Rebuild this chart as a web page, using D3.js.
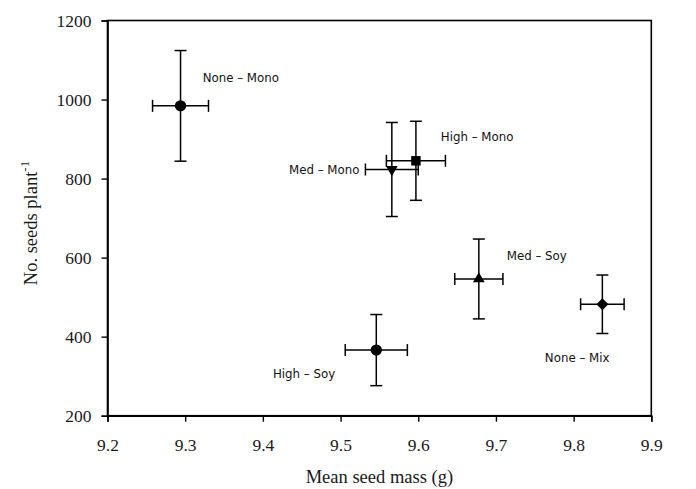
<!DOCTYPE html>
<html>
<head>
<meta charset="utf-8">
<script src="https://cdn.jsdelivr.net/npm/d3@7"></script>
<style>
  html, body { margin: 0; padding: 0; background: #fff; }
  svg { display: block; }
</style>
</head>
<body>
<svg id="chart" width="696" height="489"></svg>
<script>
// ---- data ----
const groups = ["None – Mono", "High – Mono", "Med – Mono", "Med – Soy", "None – Mix", "High – Soy"];
const markers = ["circle", "square", "triangleDown", "triangleUp", "diamond", "circle"];
const seedMass = [9.294, 9.597, 9.566, 9.678, 9.837, 9.546];
const seedMassErr = [0.036, 0.038, 0.034, 0.031, 0.028, 0.040];
const seedsPerPlant = [984, 845, 823, 546, 482, 366];
const seedsPerPlantErr = [140, 100, 119, 101, 74, 90];
// label anchor positions in data units (left edge, vertical centre)
const labelX = [9.3225, 9.629, 9.4336, 9.714, 9.763, 9.413];
const labelY = [1054, 905, 822, 604, 346, 305];
const xTicks = [9.2, 9.3, 9.4, 9.5, 9.6, 9.7, 9.8, 9.9];
const yTicks = [200, 400, 600, 800, 1000, 1200];

// ---- layout ----
const svg = d3.select("#chart");
const m = { left: 107.5, top: 20.5, right: 696 - 651.3, bottom: 489 - 415.7 };
const W = 696 - m.left - m.right;
const H = 489 - m.top - m.bottom;
const g = svg.append("g").attr("transform", `translate(${m.left},${m.top})`);

const x = d3.scaleLinear().domain([9.2, 9.9]).range([0, W]);
const y = d3.scaleLinear().domain([200, 1200]).range([H, 0]);

const serif = "'Liberation Serif', 'Times New Roman', serif";
const sans = "'DejaVu Sans', Verdana, sans-serif";

// frame
g.append("rect").attr("x", 0).attr("y", 0).attr("width", W).attr("height", H)
  .attr("fill", "none").attr("stroke", "#000").attr("stroke-width", 1.6);

// axes
const xAxis = g.append("g").attr("transform", `translate(0,${H})`)
  .call(d3.axisBottom(x).tickValues(xTicks).tickFormat(d3.format(".1f")).tickSize(6).tickPadding(17));
const yAxis = g.append("g")
  .call(d3.axisLeft(y).tickValues(yTicks).tickFormat(d3.format("d")).tickSize(6).tickPadding(10));
[xAxis, yAxis].forEach(a => {
  a.select(".domain").attr("stroke", "#000").attr("stroke-width", 1.6);
  a.selectAll(".tick line").attr("stroke", "#000").attr("stroke-width", 1.4);
  a.selectAll(".tick text").attr("fill", "#1a1a1a").style("font-family", serif).style("font-size", "17.5px");
});

// axis titles
svg.append("text").attr("x", m.left + W / 2).attr("y", 483)
  .attr("text-anchor", "middle").style("font-family", serif).style("font-size", "18.5px").attr("fill", "#1a1a1a")
  .text("Mean seed mass (g)");
const yt = svg.append("text").attr("transform", "translate(37,223) rotate(-90)")
  .attr("text-anchor", "middle").style("font-family", serif).style("font-size", "18.5px").attr("fill", "#1a1a1a");
yt.append("tspan").text("No. seeds plant");
yt.append("tspan").attr("dy", -8).style("font-size", "13px").text("-1");

// data rows
const rows = groups.map((name, i) => ({
  name, marker: markers[i], mx: seedMass[i], mxe: seedMassErr[i],
  sy: seedsPerPlant[i], sye: seedsPerPlantErr[i], lx: labelX[i], ly: labelY[i]
}));

const cap = 6;
const eb = g.append("g").attr("stroke", "#000").attr("stroke-width", 1.5).attr("fill", "none");
rows.forEach(d => {
  const cx = x(d.mx), cy = y(d.sy);
  const y0 = y(d.sy - d.sye), y1 = y(d.sy + d.sye);
  const x0 = x(d.mx - d.mxe), x1 = x(d.mx + d.mxe);
  eb.append("line").attr("x1", cx).attr("x2", cx).attr("y1", y0).attr("y2", y1);
  eb.append("line").attr("x1", cx - cap).attr("x2", cx + cap).attr("y1", y0).attr("y2", y0);
  eb.append("line").attr("x1", cx - cap).attr("x2", cx + cap).attr("y1", y1).attr("y2", y1);
  eb.append("line").attr("x1", x0).attr("x2", x1).attr("y1", cy).attr("y2", cy);
  eb.append("line").attr("x1", x0).attr("x2", x0).attr("y1", cy - cap).attr("y2", cy + cap);
  eb.append("line").attr("x1", x1).attr("x2", x1).attr("y1", cy - cap).attr("y2", cy + cap);
});

// markers
const symFor = {
  circle: { type: d3.symbolCircle, size: 100, rot: 0 },
  square: { type: d3.symbolSquare, size: 90, rot: 0 },
  triangleUp: { type: d3.symbolTriangle, size: 60, rot: 0 },
  triangleDown: { type: d3.symbolTriangle, size: 60, rot: 180 },
  diamond: { type: d3.symbolSquare, size: 72, rot: 45 }
};
g.append("g").selectAll("path").data(rows).join("path")
  .attr("d", d => d3.symbol().type(symFor[d.marker].type).size(symFor[d.marker].size)())
  .attr("transform", d => `translate(${x(d.mx)},${y(d.sy)}) rotate(${symFor[d.marker].rot})`)
  .attr("fill", "#000");

// labels
g.append("g").selectAll("text").data(rows).join("text")
  .attr("x", d => x(d.lx)).attr("y", d => y(d.ly)).attr("dy", "0.36em")
  .style("font-family", sans).style("font-size", "11.8px").attr("fill", "#111")
  .text(d => d.name);
</script>
</body>
</html>
